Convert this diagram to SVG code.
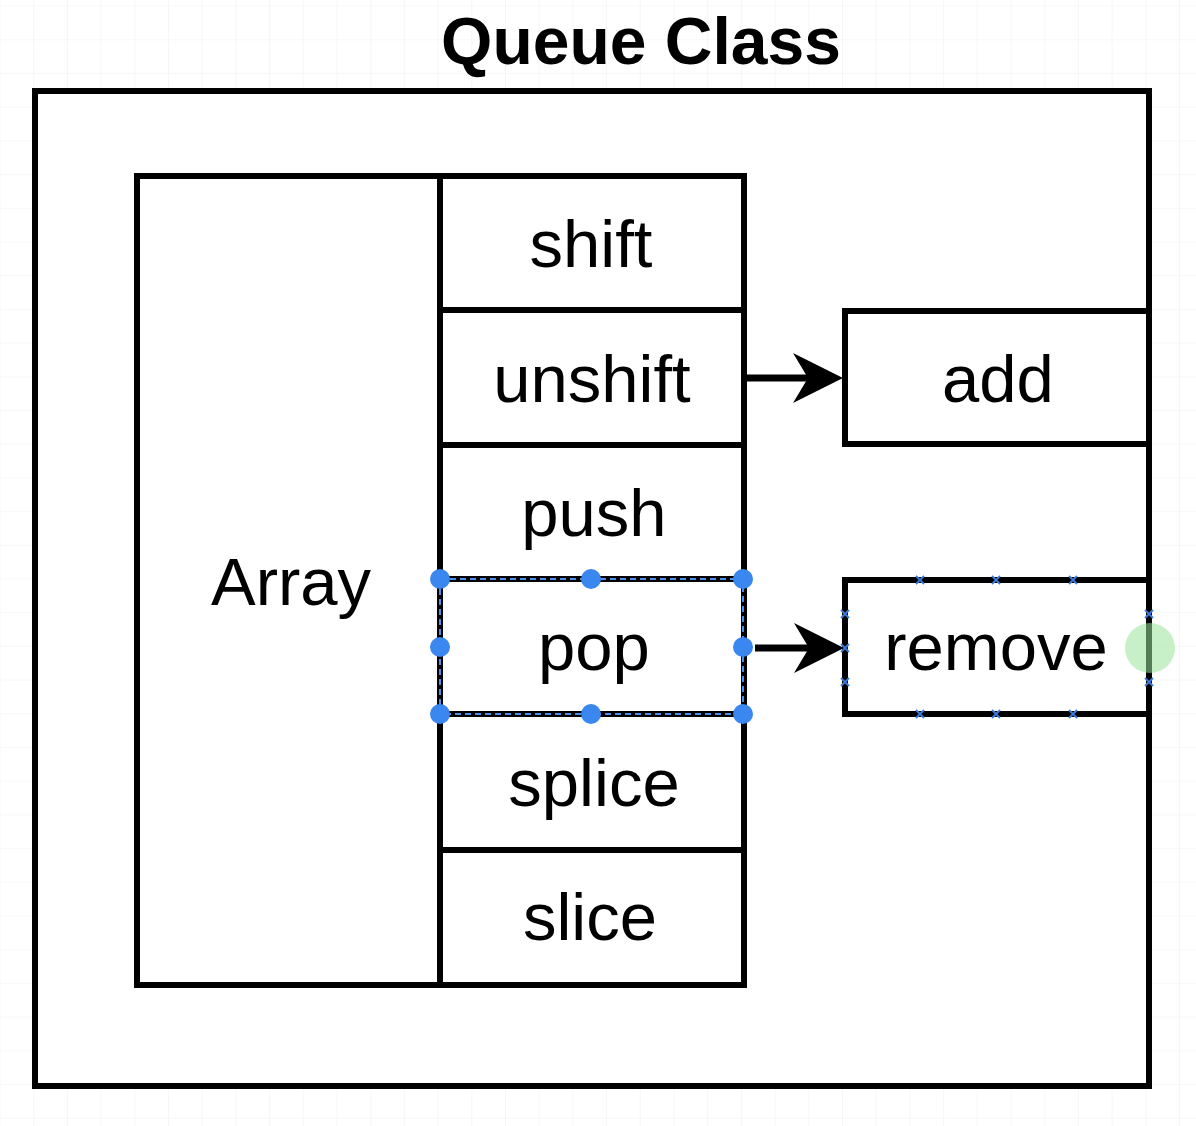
<svg xmlns="http://www.w3.org/2000/svg" width="1196" height="1126" viewBox="0 0 1196 1126">
<defs>
<pattern id="grid" x="0.5" y="5.6" width="33.7" height="33.7" patternUnits="userSpaceOnUse">
<path d="M33.7 0V33.7M0 0H33.7" fill="none" stroke="#f1f1f1" stroke-width="1.2"/>
</pattern>
</defs>
<style>
.box{fill:#fff;stroke:#000;stroke-width:6}
.cell{fill:none;stroke:#000;stroke-width:6}
.lbl{font-family:"Liberation Sans",Arial,Helvetica,sans-serif;font-size:67px;fill:#000;text-anchor:middle}
.title{font-family:"Liberation Sans",Arial,Helvetica,sans-serif;font-size:66px;font-weight:bold;fill:#000;text-anchor:middle}
.edge{stroke:#000;stroke-width:7;fill:none}
.head{fill:#000}
.handle{fill:#3b87f0}
.sel{fill:none;stroke:#4a8fe8;stroke-width:2;stroke-dasharray:6 4}
.pt{stroke:#3b7be0;stroke-width:1.8;fill:none}
</style>
<rect width="1196" height="1126" fill="#ffffff"/>
<rect width="1196" height="1126" fill="url(#grid)"/>
<text class="title" x="641" y="64">Queue Class</text>
<g id="queue-class">
<rect class="box" x="35" y="91" width="1114" height="995"/>
</g>
<g id="array">
<rect class="box" x="137" y="176" width="607" height="809"/>
<line class="cell" x1="440" y1="176" x2="440" y2="985"/>
<text class="lbl" x="291" y="605">Array</text>
</g>
<g id="shift">
<rect class="cell" x="440" y="176" width="304" height="134"/>
<text class="lbl" x="591" y="267">shift</text>
</g>
<g id="unshift">
<rect class="cell" x="440" y="310" width="304" height="135"/>
<text class="lbl" x="592" y="402">unshift</text>
</g>
<g id="push">
<rect class="cell" x="440" y="445" width="304" height="134"/>
<text class="lbl" x="594" y="536">push</text>
</g>
<g id="pop">
<rect class="cell" x="440" y="579" width="304" height="135"/>
<text class="lbl" x="594" y="670">pop</text>
</g>
<g id="splice">
<rect class="cell" x="440" y="714" width="304" height="136"/>
<text class="lbl" x="594" y="806">splice</text>
</g>
<g id="slice">
<rect class="cell" x="440" y="850" width="304" height="135"/>
<text class="lbl" x="590" y="940">slice</text>
</g>
<g id="add">
<rect class="box" x="845" y="311" width="304" height="133"/>
<text class="lbl" x="998" y="402">add</text>
</g>
<g id="remove">
<rect class="box" x="845" y="580" width="304" height="134"/>
<text class="lbl" x="996" y="670">remove</text>
</g>
<g id="connectors">
<line class="edge" x1="746" y1="378" x2="812" y2="378"/>
<path class="head" d="M843 378L793 353L808 378L793 403Z"/>
<line class="edge" x1="755" y1="648" x2="812" y2="648"/>
<path class="head" d="M844 648L794 623L809 648L794 673Z"/>
</g>
<g id="selection">
<rect class="sel" x="440" y="579" width="303" height="135"/>
<circle class="handle" cx="440" cy="579" r="10"/>
<circle class="handle" cx="591" cy="579" r="10"/>
<circle class="handle" cx="743" cy="579" r="10"/>
<circle class="handle" cx="440" cy="647" r="10"/>
<circle class="handle" cx="743" cy="647" r="10"/>
<circle class="handle" cx="440" cy="714" r="10"/>
<circle class="handle" cx="591" cy="714" r="10"/>
<circle class="handle" cx="743" cy="714" r="10"/>
<path class="pt" d="M916 576l8 8M924 576l-8 8M992 576l8 8M1000 576l-8 8M1069 576l8 8M1077 576l-8 8M916 710l8 8M924 710l-8 8M992 710l8 8M1000 710l-8 8M1069 710l8 8M1077 710l-8 8M841 610l8 8M849 610l-8 8M841 644l8 8M849 644l-8 8M841 678l8 8M849 678l-8 8M1145 610l8 8M1153 610l-8 8M1145 678l8 8M1153 678l-8 8"/>
<circle cx="1150" cy="648" r="25" fill="#9be39b" fill-opacity="0.55"/>
</g>
</svg>
